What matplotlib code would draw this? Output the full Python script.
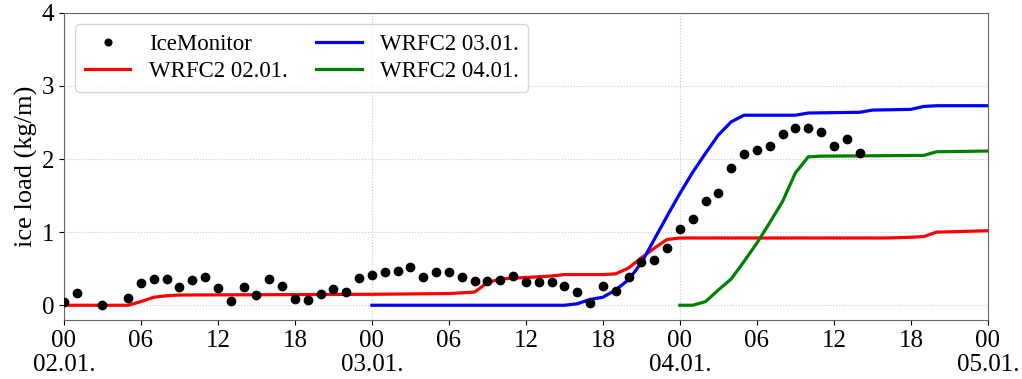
import numpy as np
import matplotlib
matplotlib.use("Agg")
import matplotlib.pyplot as plt

plt.rcParams['font.family'] = ['Liberation Serif', 'DejaVu Serif']
plt.rcParams['font.size'] = 16

# === data (hours since 02.01. 00 UTC) ===
ice_hours = [0, 1, 3] + list(range(5, 63))
ice_load = [0.05, 0.17, 0.01, 0.10, 0.31, 0.36, 0.36, 0.25, 0.35, 0.39,
            0.24, 0.06, 0.25, 0.14, 0.36, 0.27, 0.08, 0.07, 0.16, 0.22,
            0.18, 0.37, 0.42, 0.45, 0.47, 0.53, 0.39, 0.45, 0.45, 0.39,
            0.33, 0.33, 0.35, 0.40, 0.32, 0.32, 0.32, 0.26, 0.18, 0.03,
            0.26, 0.20, 0.38, 0.59, 0.62, 0.78, 1.05, 1.18, 1.42, 1.53,
            1.88, 2.07, 2.12, 2.18, 2.34, 2.43, 2.43, 2.37, 2.18, 2.28,
            2.08]

wrf02_hours = [0, 5, 6, 7, 8, 9, 24, 30, 32, 33, 34, 36, 38, 39, 42, 43,
               44, 45, 46, 47, 48, 64, 66, 67, 68, 72]
wrf02_load = [0.0, 0.0, 0.05, 0.11, 0.13, 0.14, 0.15, 0.16, 0.18, 0.31,
              0.36, 0.38, 0.40, 0.42, 0.42, 0.43, 0.51, 0.65, 0.78, 0.90,
              0.92, 0.92, 0.93, 0.94, 1.00, 1.02]

wrf03_hours = [24, 39, 40, 41, 42, 43, 44, 45, 46, 47, 48, 49, 50, 51, 52,
               53, 57, 58, 62, 63, 66, 67, 68, 72]
wrf03_load = [0.0, 0.0, 0.02, 0.08, 0.11, 0.21, 0.35, 0.58, 0.90, 1.22,
              1.53, 1.82, 2.08, 2.33, 2.51, 2.60, 2.60, 2.63, 2.64, 2.67,
              2.68, 2.72, 2.73, 2.73]

wrf04_hours = [48, 49, 50, 51, 52, 53, 54, 55, 56, 57, 58, 59, 67, 68, 72]
wrf04_load = [0.0, 0.0, 0.05, 0.21, 0.36, 0.60, 0.85, 1.13, 1.42, 1.81,
              2.03, 2.04, 2.05, 2.10, 2.11]

day_ticks = [0, 24, 48, 72]
day_labels = ["00\n02.01.", "00\n03.01.", "00\n04.01.", "00\n05.01."]
hour_ticks = [6, 12, 18, 30, 36, 42, 54, 60, 66]
hour_labels = ["06", "12", "18"] * 3

# === plot ===
fig = plt.figure(figsize=(10.22, 3.79), dpi=100)
ax = fig.add_axes([0.0626, 0.156, 0.904, 0.81])

ax.plot(ice_hours, ice_load, 'o', color='black', markersize=6, label='IceMonitor', zorder=5)
ax.plot(wrf02_hours, wrf02_load, color='red', lw=2.3, label='WRFC2 02.01.')
ax.plot(wrf03_hours, wrf03_load, color='blue', lw=2.3, label='WRFC2 03.01.')
ax.plot(wrf04_hours, wrf04_load, color='green', lw=2.3, label='WRFC2 04.01.')

ax.set_xlim(0, 72)
ax.set_ylim(-0.2, 4)
ax.set_yticks([0, 1, 2, 3, 4])
ax.set_xticks(day_ticks)
ax.set_xticklabels(day_labels, linespacing=1.1)
ax.set_xticks(hour_ticks, minor=True)
ax.set_xticklabels(hour_labels, minor=True)
ax.tick_params(axis='x', which='both', length=3.5, width=0.8, pad=4)
ax.tick_params(axis='y', length=3.5, width=0.8)
ax.tick_params(axis='both', which='both', labelsize=18)

ax.grid(True, which='major', linestyle=':', color='#c8c8c8', lw=0.8)
for s in ax.spines.values():
    s.set_color('#666666')

ax.set_ylabel("ice load (kg/m)", fontsize=19, labelpad=3)

ax.legend(ncol=2, loc='upper left', fontsize=16.5, handlelength=2.0,
          columnspacing=1.25, borderpad=0.4, labelspacing=0.3,
          markerscale=0.8, bbox_to_anchor=(0.0, 1.0))

fig.savefig("out.png", dpi=100)
